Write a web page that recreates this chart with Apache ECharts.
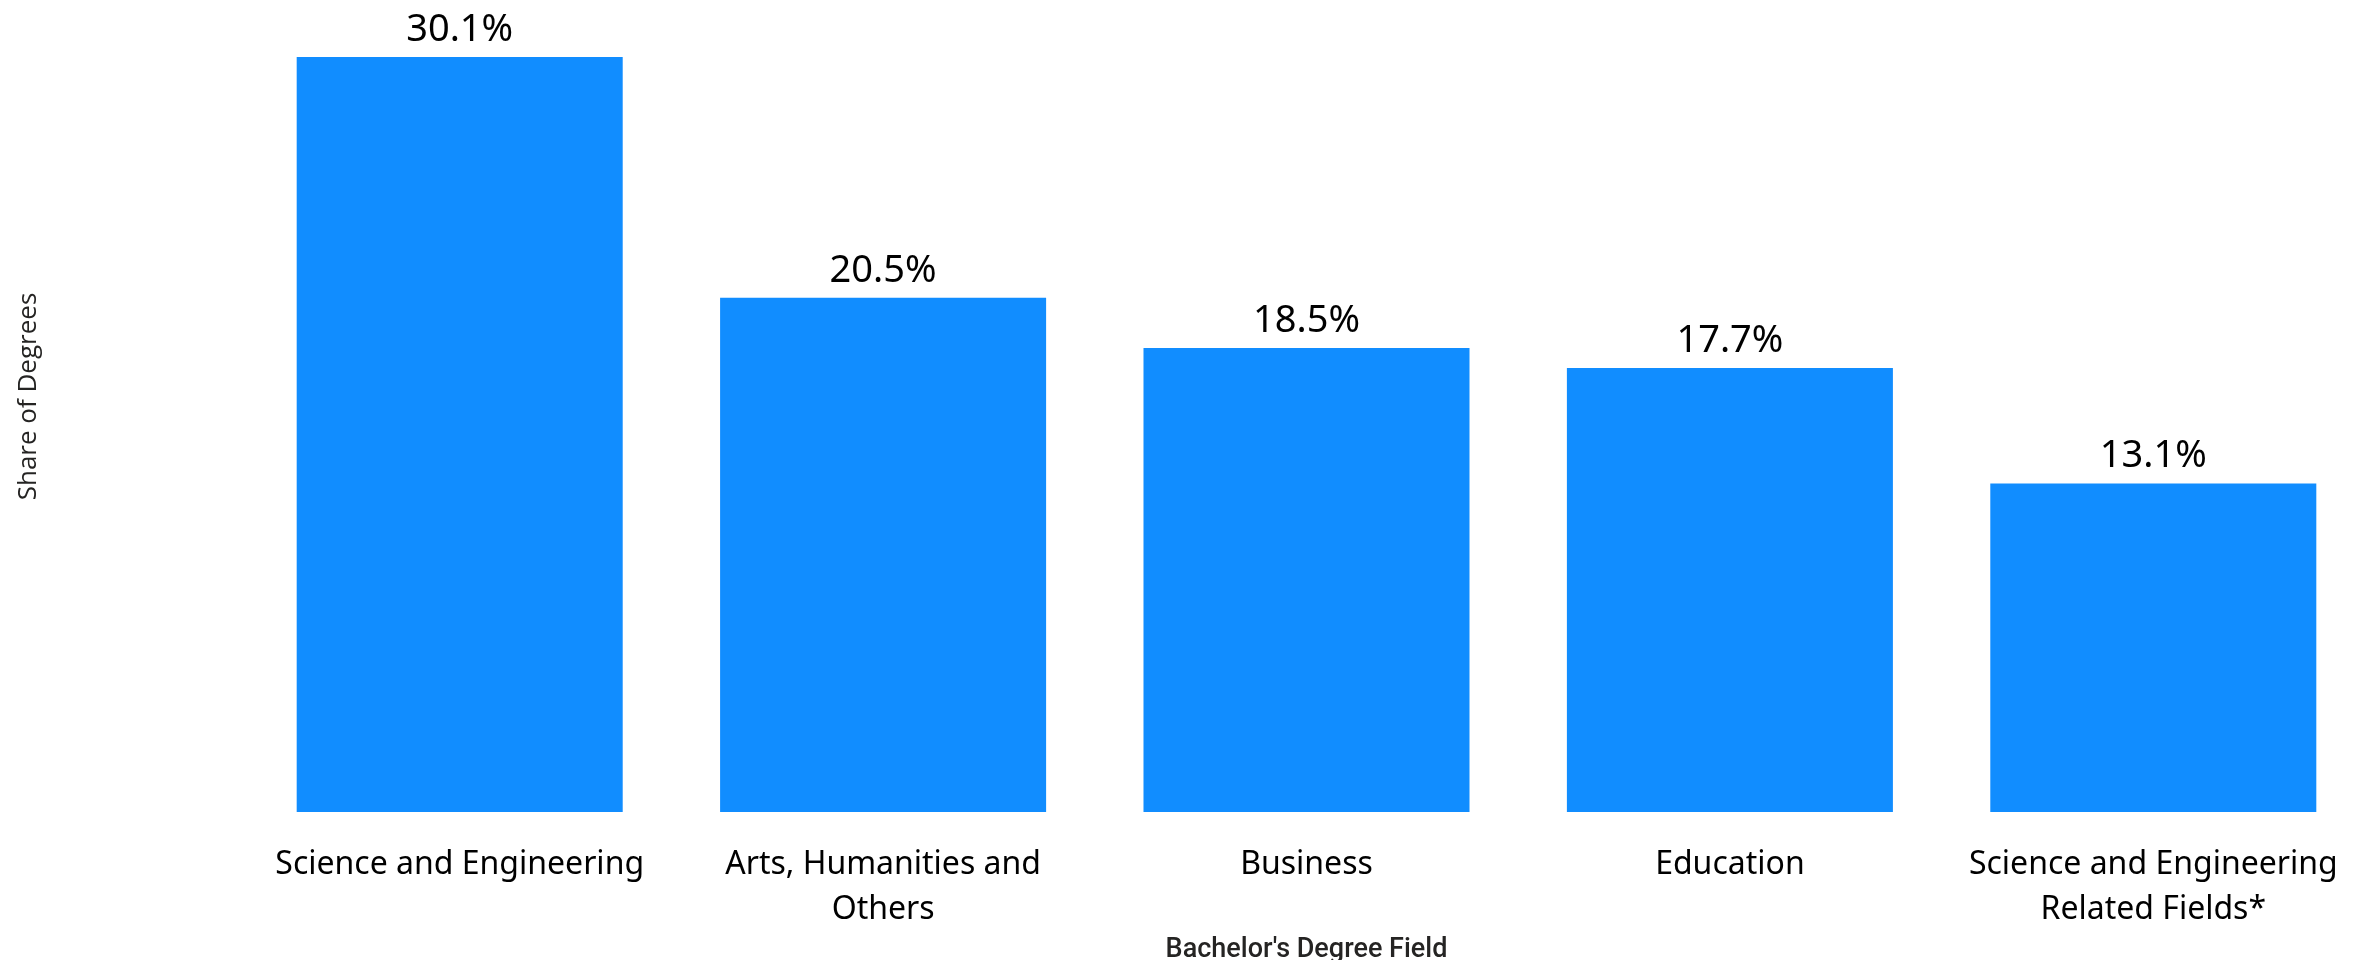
<!DOCTYPE html>
<html>
<head>
<meta charset="utf-8">
<script src="https://cdn.jsdelivr.net/npm/echarts@6/dist/echarts.min.js"></script>
<style>
  html, body { margin: 0; padding: 0; background: #fff; }
  #chart { width: 2371px; height: 960px; }
</style>
</head>
<body>
<div id="chart"></div>
<script>
// bachelor's degree fields (share of degrees, %)
var categories = ['Science and Engineering', 'Arts, Humanities and\nOthers', 'Business', 'Education', 'Science and Engineering\nRelated Fields*'];
var shareValues = [30.1, 20.5, 18.5, 17.7, 13.1];

var labelFont = "'Segoe UI', 'Noto Sans', sans-serif";

var chart = echarts.init(document.getElementById('chart'));
chart.setOption({
  backgroundColor: '#fff',
  animation: false,
  grid: {
    left: 248,
    right: 6,
    top: 57,
    bottom: 148,
    containLabel: false,
    outerBoundsMode: 'none'
  },
  xAxis: {
    type: 'category',
    data: categories,
    name: "Bachelor's Degree Field",
    nameLocation: 'middle',
    nameGap: 113,
    nameTextStyle: {
      color: '#252423',
      fontSize: 27,
      fontWeight: 500,
      fontFamily: "Roboto, 'Noto Sans', sans-serif"
    },
    axisLine: { show: false },
    axisTick: { show: false },
    axisLabel: {
      interval: 0,
      color: '#000',
      fontSize: 32,
      fontFamily: labelFont,
      margin: 30,
      lineHeight: 45
    }
  },
  yAxis: {
    type: 'value',
    min: 0,
    max: 30.1,
    name: 'Share of Degrees',
    nameLocation: 'middle',
    nameGap: 206,
    nameTextStyle: {
      color: '#252423',
      fontSize: 26,
      fontFamily: "'Open Sans', sans-serif",
      padding: [0, 0, 0, 76]
    },
    axisLine: { show: false },
    axisTick: { show: false },
    axisLabel: { show: false },
    splitLine: { show: false }
  },
  series: [{
    type: 'bar',
    data: shareValues,
    barCategoryGap: '23%',
    itemStyle: { color: '#118DFF' },
    label: {
      show: true,
      position: 'top',
      distance: 8,
      color: '#000',
      fontSize: 38,
      fontFamily: labelFont,
      formatter: function (p) { return p.value.toFixed(1) + '%'; }
    }
  }]
});
</script>
</body>
</html>
